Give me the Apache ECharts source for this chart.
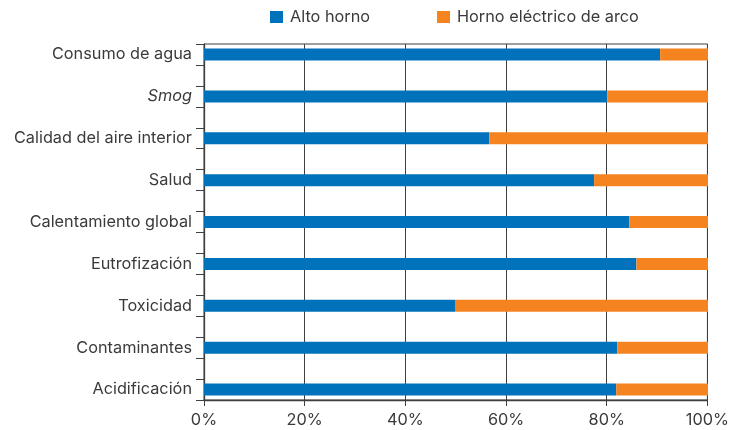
<!DOCTYPE html>
<html>
<head>
<meta charset="utf-8">
<script src="https://cdn.jsdelivr.net/npm/echarts@6/dist/echarts.min.js"></script>
<style>
  html, body { margin: 0; padding: 0; background: #fff; }
  #chart { width: 732px; height: 430px; }
</style>
</head>
<body>
<div id="chart"></div>
<script>
// Impact categories, top to bottom
const categories = [
  'Consumo de agua', 'Smog', 'Calidad del aire interior', 'Salud',
  'Calentamiento global', 'Eutrofización', 'Toxicidad', 'Contaminantes', 'Acidificación'
];
// Share of each route (%)
const altoHorno = [90.5, 80.0, 56.6, 77.4, 84.4, 85.8, 49.8, 82.0, 81.8];
const hornoElectrico = [9.5, 20.0, 43.4, 22.6, 15.6, 14.2, 50.2, 18.0, 18.2];
const seriesNames = ['Alto horno', 'Horno eléctrico de arco'];
const xTicks = [0, 20, 40, 60, 80, 100];

const FONT = 'Inter';
const SIZE = 16.3;
const TEXT = '#3a3a3a';
const LINE = '#3f3f3f';

const chart = echarts.init(document.getElementById('chart'), null, { renderer: 'canvas' });

const legendItem = (name, left) => ({
  data: [name], left: left, top: 9, padding: 0,
  icon: 'rect', itemWidth: 13, itemHeight: 12,
  textStyle: { fontFamily: FONT, fontSize: SIZE, color: TEXT, padding: [0, 0, 0, 2] }
});

chart.setOption({
  animation: false,
  textStyle: { fontFamily: FONT },
  legend: [legendItem(seriesNames[0], 270), legendItem(seriesNames[1], 437)],
  grid: [
    // bar area: first and last category centres
    { left: 204, right: 24, top: 54.5, bottom: 40.5 },
    // frame, grid lines and axes
    { left: 204, right: 24, top: 44, bottom: 30, show: true, borderColor: LINE, borderWidth: 1 }
  ],
  xAxis: [
    { gridIndex: 0, type: 'value', min: 0, max: 100, show: false },
    {
      gridIndex: 1, type: 'value', min: 0, max: 100, interval: 20,
      axisLine: { show: true, lineStyle: { color: LINE, width: 1.3 } },
      axisTick: { show: true, length: 6, lineStyle: { color: LINE } },
      splitLine: { show: true, lineStyle: { color: LINE, width: 1 } },
      axisLabel: {
        margin: 12, fontFamily: FONT, fontSize: SIZE, color: TEXT,
        customValues: xTicks,
        formatter: v => v + '%'
      }
    }
  ],
  yAxis: [
    {
      gridIndex: 0, type: 'category', data: categories, inverse: true, boundaryGap: false,
      axisLine: { show: false }, axisTick: { show: false }, splitLine: { show: false },
      axisLabel: {
        margin: 12, fontFamily: FONT, fontSize: SIZE, color: TEXT,
        formatter: v => v === 'Smog' ? '{it|' + v + '}' : v,
        rich: { it: { fontStyle: 'italic', fontFamily: FONT, fontSize: SIZE, color: TEXT } }
      }
    },
    {
      gridIndex: 1, type: 'value', min: 0, max: 17, interval: 1,
      axisLine: { show: true, lineStyle: { color: LINE, width: 1.3 } },
      axisTick: { show: true, length: 8, lineStyle: { color: LINE } },
      axisLabel: { show: false },
      splitLine: { show: false }
    }
  ],
  series: [
    {
      name: seriesNames[0], type: 'bar', stack: 'total', xAxisIndex: 0, yAxisIndex: 0,
      data: altoHorno, barWidth: 12, itemStyle: { color: '#0071bb' }, z: 5
    },
    {
      name: seriesNames[1], type: 'bar', stack: 'total', xAxisIndex: 0, yAxisIndex: 0,
      data: hornoElectrico, barWidth: 12, itemStyle: { color: '#f58320' }, z: 5
    }
  ]
});
</script>
</body>
</html>
